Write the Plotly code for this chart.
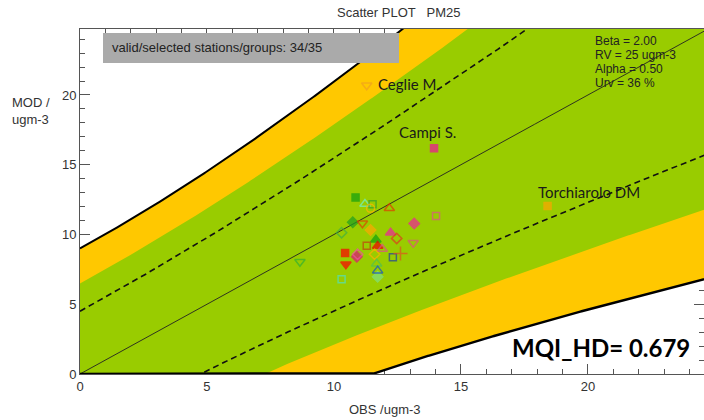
import numpy as np
import plotly.graph_objects as go

# ---- data ----
obs = [11.29, 13.94, 18.41, 10.85, 11.22, 11.52, 11.44, 12.18, 14.02, 10.74, 11.12,
       11.44, 13.16, 10.30, 12.23, 12.47, 13.12, 11.65, 11.72, 11.29, 11.90, 10.44,
       10.90, 10.93, 10.47, 11.60, 12.32, 12.62, 11.68, 11.72, 11.72, 10.30, 8.66]
mod = [20.70, 16.18, 12.04, 12.66, 12.19, 12.16, 11.88, 11.88, 11.33, 10.87, 10.80,
       10.32, 10.78, 10.13, 10.13, 9.72, 9.41, 9.62, 9.18, 9.20, 8.96, 8.68,
       8.40, 8.58, 7.87, 8.58, 8.37, 8.63, 7.91, 6.97, 7.41, 6.79, 8.05]
labels = ["Ceglie M.", "Campi S.", "Torchiarolo DM"]

# styles (separate from values)
symbols = ["triangle-down-open", "square", "square", "square", "triangle-up-open",
           "square-open", "circle-open", "triangle-up-open", "square-open", "diamond",
           "triangle-down-open", "diamond", "diamond", "diamond-open", "triangle-up",
           "diamond-open", "triangle-down-open", "triangle-up", "triangle-up", "square-open",
           "triangle-up-open", "square", "diamond", "diamond-open", "triangle-down",
           "diamond-open", "square-open", "cross-thin-open", "triangle-up-open", "diamond",
           "triangle-up-open", "square-open", "triangle-down-open"]
colors = ["#F0A020", "#F0109A", "#FFA500", "#10A010", "#70F0C8",
          "#30A030", "#FFB400", "#E03C00", "#E0508C", "#20A020",
          "#E04000", "#FFA800", "#F0209A", "#40B040", "#F020A0",
          "#E03820", "#E05080", "#10A010", "#F00000", "#C04010",
          "#E04890", "#FF0000", "#E0107A", "#F050A0", "#FF0000",
          "#FFB000", "#2040A0", "#E05020", "#50C050", "#80E080",
          "#1050D0", "#50E0C0", "#30B030"]

# parameters shown on the chart
BETA = 2.00
RV = 25.0
ALPHA = 0.50
URV = 0.36
GREEN_FACTOR = 1.44
MQI = 0.679
N_VALID, N_SEL = 34, 35

X_MAX, Y_MAX = 24.57, 24.73

O = np.linspace(0, 30, 601)
U = URV * np.sqrt((1 - ALPHA ** 2) * O ** 2 + ALPHA ** 2 * RV ** 2)

ORANGE = "#FFC800"
GREEN = "#99CC00"

fig = go.Figure()

def band(k, color):
    up = O + k * U
    lo = O - k * U
    fig.add_trace(go.Scatter(x=np.concatenate([O, O[::-1]]),
                             y=np.concatenate([up, lo[::-1]]),
                             fill="toself", fillcolor=color, mode="lines",
                             line=dict(width=0), hoverinfo="skip"))

band(BETA, ORANGE)
band(GREEN_FACTOR, GREEN)

# dashed +/- U
for s in (1, -1):
    fig.add_trace(go.Scatter(x=O, y=O + s * U, mode="lines",
                             line=dict(color="#111", width=1.6, dash="6px,4px"),
                             hoverinfo="skip"))
# 1:1 line
fig.add_trace(go.Scatter(x=O, y=O, mode="lines", line=dict(color="#222", width=0.9),
                         hoverinfo="skip"))
# black limits
fig.add_trace(go.Scatter(x=O, y=O + BETA * U, mode="lines",
                         line=dict(color="#000", width=2), hoverinfo="skip"))
fig.add_trace(go.Scatter(x=O, y=np.maximum(O - BETA * U, 0), mode="lines",
                         line=dict(color="#000", width=2.4), hoverinfo="skip"))

sizes = []
for s in symbols:
    if s.startswith("square"):
        sizes.append(7)
    elif s.startswith("triangle"):
        sizes.append(9)
    elif s.startswith("cross"):
        sizes.append(10)
    else:
        sizes.append(8)

fig.add_trace(go.Scatter(x=obs, y=mod, mode="markers",
                         marker=dict(symbol=symbols, color=colors, size=sizes,
                                     line=dict(color=colors, width=1.5)),
                         hoverinfo="skip"))

ann_font = dict(family="Lato, 'Noto Sans', sans-serif", size=15, color="#1a1a1a")
fig.add_annotation(x=obs[0], y=mod[0], text=labels[0], showarrow=False,
                   xanchor="left", xshift=9, yshift=1, font=ann_font)
fig.add_annotation(x=obs[1], y=mod[1], text=labels[1], showarrow=False,
                   xanchor="center", xshift=-7, yshift=16, font=ann_font)
fig.add_annotation(x=obs[2], y=mod[2], text=labels[2], showarrow=False,
                   xanchor="left", xshift=-12, yshift=14, font=ann_font)

W, H = 704, 420
L, R, T, B = 80, 0, 29, 46
PW, PH = W - L - R, H - T - B

def px(xp):
    return (xp - L) / PW

def py(yp):
    return (H - B - yp) / PH

axis_font = dict(family="Liberation Sans, Arial, sans-serif", size=13, color="#333")
common = dict(showgrid=False, zeroline=False, showline=True, linecolor="#555",
              linewidth=1, mirror="ticks", ticks="inside", ticklen=10,
              tickcolor="#555", tickwidth=1, dtick=5, tick0=0,
              minor=dict(ticks="inside", ticklen=5, dtick=1, tickcolor="#555"),
              tickfont=axis_font, layer="below traces")

fig.update_layout(
    width=W, height=H, margin=dict(l=L, r=R, t=T, b=B),
    paper_bgcolor="white", plot_bgcolor="white", showlegend=False,
    xaxis=dict(range=[0, X_MAX], **common),
    yaxis=dict(range=[0, Y_MAX], **common),
)

# grey info box
fig.add_shape(type="rect", xref="paper", yref="paper",
              x0=px(103), x1=px(399), y0=py(63), y1=py(33),
              fillcolor="#AAAAAA", line=dict(width=0), layer="above")
fig.add_annotation(xref="paper", yref="paper", x=px(110), y=py(48),
                   text=f"valid/selected stations/groups: {N_VALID}/{N_SEL}",
                   showarrow=False, xanchor="left", yanchor="middle",
                   font=dict(family="Liberation Sans, Arial", size=13, color="#222"))

# parameter text
params = [f"Beta = {BETA:.2f}", f"RV = {RV:.0f} ugm-3", f"Alpha = {ALPHA:.2f}",
          f"Urv = {URV * 100:.0f} %"]
for i, t in enumerate(params):
    fig.add_annotation(xref="paper", yref="paper", x=px(593), y=py(41 + 14 * i),
                       text=t, showarrow=False, xanchor="left", yanchor="middle",
                       font=dict(family="Liberation Sans, Arial", size=12, color="#222"))

# MQI text
fig.add_annotation(xref="paper", yref="paper", x=px(692), y=py(347),
                   text=f"<b>MQI_HD= {MQI:.3f}</b>", showarrow=False,
                   xanchor="right", yanchor="middle",
                   font=dict(family="Lato, sans-serif", size=24, color="#000"))

# titles
fig.add_annotation(xref="paper", yref="paper", x=px(399), y=py(13),
                   text="Scatter PLOT&nbsp;&nbsp;&nbsp;PM25", showarrow=False,
                   xanchor="center", yanchor="middle",
                   font=dict(family="Liberation Sans, Arial", size=13, color="#333"))
fig.add_annotation(xref="paper", yref="paper", x=px(385), y=py(409),
                   text="OBS /ugm-3", showarrow=False, xanchor="center", yanchor="middle",
                   font=dict(family="Liberation Sans, Arial", size=13, color="#333"))
fig.add_annotation(xref="paper", yref="paper", x=px(10), y=py(111),
                   text="MOD /<br>ugm-3", showarrow=False, xanchor="left", yanchor="middle",
                   align="left",
                   font=dict(family="Liberation Sans, Arial", size=13, color="#333"))

fig.write_html("out.html")
